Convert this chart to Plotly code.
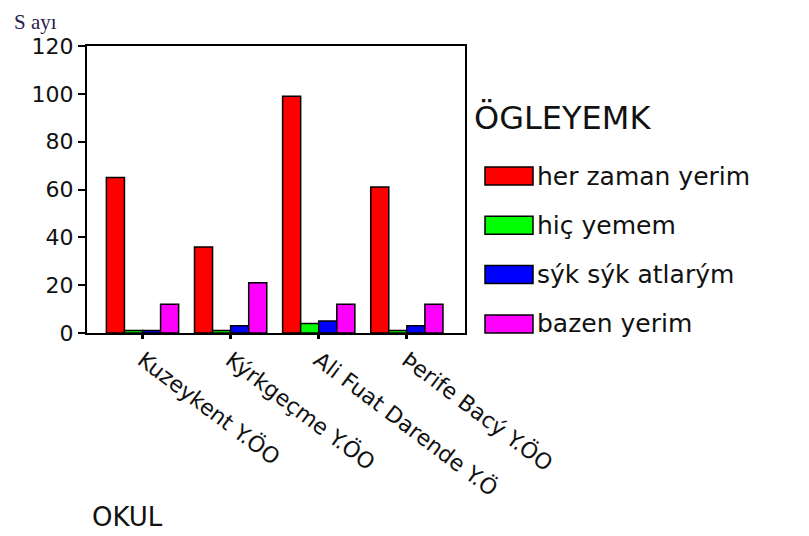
import plotly.graph_objects as go

# Data
schools = ["Kuzeykent Y.ÖO", "Kýrkgeçme Y.ÖO", "Ali Fuat Darende Y.Ö", "Þerife Bacý Y.ÖO"]
her_zaman = [65, 36, 99, 61]
hic_yemem = [1, 1, 4, 1]
syk_syk = [1, 3, 5, 3]
bazen = [12, 21, 12, 12]

series_names = ["her zaman yerim", "hiç yemem", "sýk sýk atlarým", "bazen yerim"]
series_values = [her_zaman, hic_yemem, syk_syk, bazen]
series_colors = ["#ff0000", "#00ff00", "#0000ff", "#ff00ff"]

# Page geometry: the browser puts the figure 8px in from the top-left corner
OFF = 8
W, H = 809 - OFF, 536 - OFF
L, T = 87 - OFF, 46 - OFF
R = W - (465 - OFF)
B = H - (333 - OFF)
pw, ph = W - L - R, H - T - B


def px(x):
    # screen pixel -> paper x
    return (x - OFF - L) / pw


def py(y):
    # screen pixel -> paper y
    return (H - B - (y - OFF)) / ph


fig = go.Figure()
xs = list(range(len(schools)))
for name, vals, col in zip(series_names, series_values, series_colors):
    fig.add_trace(go.Bar(
        x=xs, y=vals, name=name, marker=dict(color=col, line=dict(color="black", width=1.5)),
        showlegend=False
    ))

# Hand-made legend with wide swatches like the original
shapes = []
annotations = []
for i, (name, col) in enumerate(zip(series_names, series_colors)):
    yc = 176 + i * 49.3
    shapes.append(dict(
        type="rect", xref="paper", yref="paper",
        x0=px(485), x1=px(533), y0=py(yc + 9), y1=py(yc - 9),
        fillcolor=col, line=dict(color="black", width=1.5)
    ))
    annotations.append(dict(
        x=px(535), y=py(yc), xref="paper", yref="paper", text=name, showarrow=False,
        xanchor="left", yanchor="middle", font=dict(family="DejaVu Sans", size=25, color="#111")
    ))

annotations.append(dict(
    x=px(472), y=py(118), xref="paper", yref="paper", text="ÖGLEYEMK", showarrow=False,
    xanchor="left", yanchor="middle", font=dict(family="DejaVu Sans", size=32, color="#111")
))
annotations.append(dict(
    x=px(12), y=py(8), xref="paper", yref="paper", text="S ayı", showarrow=False,
    xanchor="left", yanchor="top", font=dict(family="Liberation Serif", size=21, color="#2a2050")
))
annotations.append(dict(
    x=px(90), y=py(534), xref="paper", yref="paper", text="OKUL", showarrow=False,
    xanchor="left", yanchor="bottom", font=dict(family="DejaVu Sans", size=26, color="#111")
))

fig.update_layout(
    width=W, height=H,
    margin=dict(l=L, r=R, t=T, b=B, autoexpand=False),
    paper_bgcolor="white", plot_bgcolor="white",
    barmode="group", bargap=0.18, bargroupgap=0,
    shapes=shapes, annotations=annotations,
    xaxis=dict(
        tickmode="array", tickvals=xs, ticktext=schools, tickangle=37,
        range=[-0.63, 3.66], showline=True, linecolor="black", linewidth=1.5, mirror=True,
        ticks="outside", ticklen=4, tickwidth=3, tickcolor="black", showgrid=False,
        tickfont=dict(family="DejaVu Sans", size=22, color="#111")
    ),
    yaxis=dict(
        range=[0, 120], dtick=20, showline=True, linecolor="black", linewidth=2, mirror=True,
        ticks="outside", ticklen=7, tickwidth=2, tickcolor="black", showgrid=False, zeroline=False,
        tickfont=dict(family="DejaVu Sans", size=22, color="#111")
    ),
)

fig.write_html("out.html")
